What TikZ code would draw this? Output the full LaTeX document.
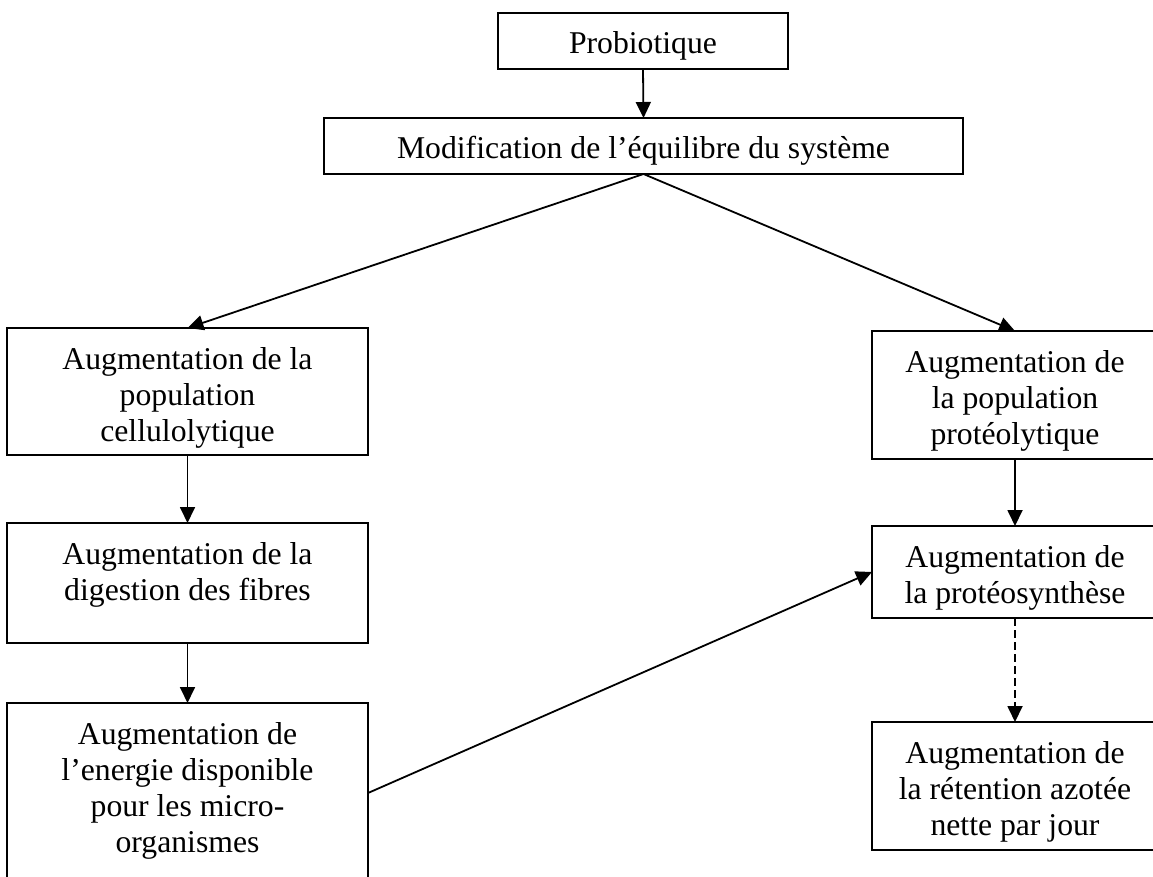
\documentclass[tikz,border=0pt]{standalone}
\usepackage{fontspec}
\setmainfont{Liberation Serif}
\usetikzlibrary{arrows.meta}
\newcommand{\bx}[3]{\parbox[t][#2][t]{#1}{\centering\rule{0pt}{41pt}#3\par}}
\tikzset{
  box/.style={draw=black, line width=1.8pt, inner sep=0pt, outer sep=0pt, anchor=north west,
    font=\fontsize{31.7pt}{36pt}\selectfont},
  conn/.style={line width=1.8pt, -{Triangle[length=16pt,width=15pt]}},
  dconn/.style={conn, dash pattern=on 8pt off 4pt}
}
\begin{document}
\begin{tikzpicture}[x=1pt,y=-1pt]
\useasboundingbox (0,0) rectangle (1153,877);
\clip (0,0) rectangle (1153,877);
\node[box] (prob) at (498,13) {\bx{290pt}{56pt}{Probiotique}};
\node[box] (modif) at (324,118) {\bx{639pt}{56pt}{Modification de l’équilibre du système}};
\node[box] (L1) at (7,328) {\bx{361pt}{127pt}{Augmentation de la\\population\\cellulolytique}};
\node[box] (L2) at (7,523) {\bx{361pt}{120pt}{Augmentation de la\\digestion des fibres}};
\node[box] (L3) at (7,703) {\bx{361pt}{180pt}{Augmentation de\\l’energie disponible\\pour les micro-\\organismes}};
\node[box] (R1) at (872,331) {\bx{286pt}{128pt}{Augmentation de\\la population\\protéolytique}};
\node[box] (R2) at (872,526) {\bx{286pt}{92pt}{Augmentation de\\la protéosynthèse}};
\node[box] (R3) at (872,722) {\bx{286pt}{128pt}{Augmentation de\\la rétention azotée\\nette par jour}};
\draw[conn] (prob.south) -- (modif.north);
\draw[conn] (modif.south) -- (L1.north);
\draw[conn] (modif.south) -- (R1.north);
\draw[conn] (L1.south) -- (L2.north);
\draw[conn] (L2.south) -- (L3.north);
\draw[conn] (R1.south) -- (R2.north);
\draw[dconn] (R2.south) -- (R3.north);
\draw[conn] (L3.east) -- (R2.west);
\end{tikzpicture}
\end{document}
